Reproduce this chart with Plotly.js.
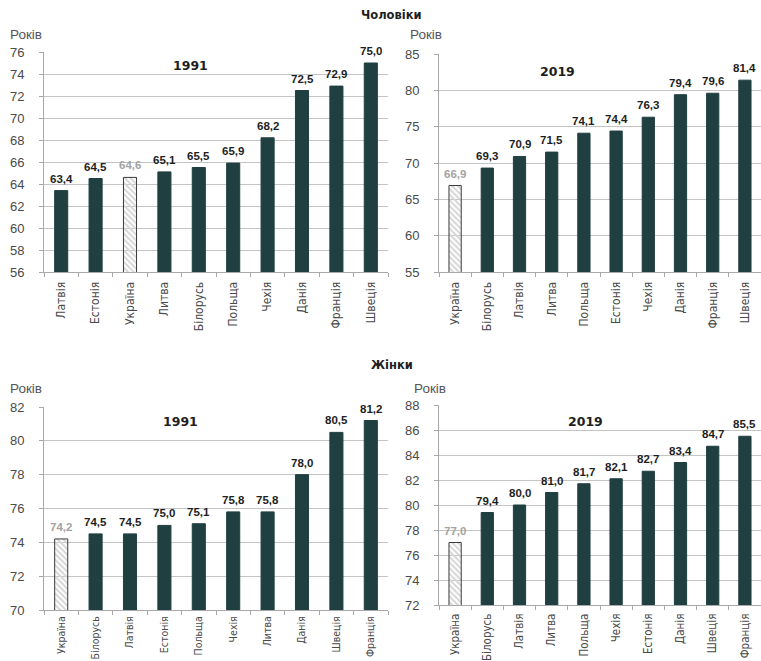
<!DOCTYPE html>
<html>
<head>
<meta charset="utf-8">
<script src="https://cdn.plot.ly/plotly-3.0.1.min.js"></script>
<style>
  html, body { margin: 0; padding: 0; background: #ffffff; }
  #chart { width: 761px; height: 661px; }
</style>
</head>
<body>
<div id="chart"></div>
<script>
// Life expectancy at birth, years
const menCountries1991 = ['Латвія', 'Естонія', 'Україна', 'Литва', 'Білорусь', 'Польща', 'Чехія', 'Данія', 'Франція', 'Швеція'];
const menValues1991 = [63.4, 64.5, 64.6, 65.1, 65.5, 65.9, 68.2, 72.5, 72.9, 75.0];

const menCountries2019 = ['Україна', 'Білорусь', 'Латвія', 'Литва', 'Польща', 'Естонія', 'Чехія', 'Данія', 'Франція', 'Швеція'];
const menValues2019 = [66.9, 69.3, 70.9, 71.5, 74.1, 74.4, 76.3, 79.4, 79.6, 81.4];

const womenCountries1991 = ['Україна', 'Білорусь', 'Латвія', 'Естонія', 'Польща', 'Чехія', 'Литва', 'Данія', 'Швеція', 'Франція'];
const womenValues1991 = [74.2, 74.5, 74.5, 75.0, 75.1, 75.8, 75.8, 78.0, 80.5, 81.2];

const womenCountries2019 = ['Україна', 'Білорусь', 'Латвія', 'Литва', 'Польща', 'Чехія', 'Естонія', 'Данія', 'Швеція', 'Франція'];
const womenValues2019 = [77.0, 79.4, 80.0, 81.0, 81.7, 82.1, 82.7, 83.4, 84.7, 85.5];

const menTicks1991 = [56, 58, 60, 62, 64, 66, 68, 70, 72, 74, 76];
const menTicks2019 = [55, 60, 65, 70, 75, 80, 85];
const womenTicks1991 = [70, 72, 74, 76, 78, 80, 82];
const womenTicks2019 = [72, 74, 76, 78, 80, 82, 84, 86, 88];

const highlight = 'Україна';
const barColor = '#1f3f40';
const hatchFg = '#555555';
const hatchBg = '#d6d6d6';
const labelColor = '#1e1e1e';
const labelMuted = '#a3a3a3';

function barTrace(cats, vals, xa, ya) {
  const isHi = cats.map(c => c === highlight);
  return {
    type: 'bar',
    x: cats,
    y: vals,
    xaxis: xa,
    yaxis: ya,
    marker: {
      color: isHi.map(h => h ? hatchBg : barColor),
      line: { color: isHi.map(h => h ? '#3a3a3a' : barColor), width: 1 },
      pattern: {
        shape: isHi.map(h => h ? '\\' : ''),
        fgcolor: hatchFg,
        bgcolor: hatchBg,
        size: 4,
        solidity: 0.5
      }
    },
    hoverinfo: 'x+y',
    showlegend: false
  };
}

// value labels above each bar, placed in data coordinates
const valueFont = { family: 'Liberation Sans, Arial, sans-serif', size: 11.5, weight: 'bold' };
function valueLabels(cats, vals, xa, ya) {
  return cats.map((c, i) => ({
    xref: xa, yref: ya, x: c, y: vals[i],
    text: vals[i].toFixed(1).replace('.', ','),
    xanchor: 'center', yanchor: 'bottom', yshift: 4,
    showarrow: false,
    font: Object.assign({}, valueFont, { color: c === highlight ? labelMuted : labelColor })
  }));
}

const data = [
  barTrace(menCountries1991, menValues1991, 'x', 'y'),
  barTrace(menCountries2019, menValues2019, 'x2', 'y2'),
  barTrace(womenCountries1991, womenValues1991, 'x3', 'y3'),
  barTrace(womenCountries2019, womenValues2019, 'x4', 'y4')
];

function xAxis(domain, anchor, fontSize, standoff) {
  return {
    domain: domain,
    anchor: anchor,
    type: 'category',
    showline: true,
    linecolor: '#a8a8a8',
    linewidth: 1,
    ticks: 'outside',
    tickson: 'boundaries',
    ticklen: 4,
    tickcolor: '#a8a8a8',
    tickangle: -90,
    ticklabelstandoff: standoff,
    tickfont: { family: 'Liberation Sans Narrow, Arial Narrow, DejaVu Sans Condensed, sans-serif', size: fontSize, color: '#4a4a4a' },
    showgrid: false,
    fixedrange: true
  };
}

function yAxis(domain, anchor, ticks) {
  return {
    domain: domain,
    anchor: anchor,
    range: [ticks[0], ticks[ticks.length - 1]],
    tickvals: ticks,
    ticktext: ticks.map(String),
    showline: true,
    linecolor: '#a8a8a8',
    linewidth: 1,
    ticks: 'outside',
    ticklen: 4,
    tickcolor: '#a8a8a8',
    ticklabelstandoff: 12,
    tickfont: { family: 'Liberation Sans, Arial, sans-serif', size: 13, color: '#4a4a4a' },
    showgrid: true,
    gridcolor: '#c4c4c4',
    gridwidth: 1,
    zeroline: false,
    fixedrange: true
  };
}

const yearFont = { family: 'DejaVu Sans, sans-serif', size: 12.5, weight: 'bold', color: '#1e1e1e' };
const titleFont = { family: 'DejaVu Sans, sans-serif', size: 11.5, weight: 'bold', color: '#1e1e1e' };
const unitFont = { family: 'Liberation Sans, Arial, sans-serif', size: 13.5, color: '#555555' };

function note(text, x, y, font, xanchor) {
  return {
    text: text, xref: 'paper', yref: 'paper', x: x, y: y,
    xanchor: xanchor || 'center', yanchor: 'middle',
    showarrow: false, font: font
  };
}

const W = 761, H = 661;
const px = v => v / W;
const py = v => 1 - v / H;

const layout = {
  width: W,
  height: H,
  margin: { l: 0, r: 0, t: 0, b: 0 },
  paper_bgcolor: '#ffffff',
  plot_bgcolor: '#ffffff',
  bargap: 0.62,
  xaxis: xAxis([px(44), px(388)], 'y', 12, 4),
  yaxis: yAxis([py(272), py(52)], 'x', menTicks1991),
  xaxis2: xAxis([px(439), px(761)], 'y2', 12, 4),
  yaxis2: yAxis([py(272), py(54)], 'x2', menTicks2019),
  xaxis3: xAxis([px(44), px(388)], 'y3', 10.5, 1),
  yaxis3: yAxis([py(610), py(407)], 'x3', womenTicks1991),
  xaxis4: xAxis([px(439), px(761)], 'y4', 11.5, 3),
  yaxis4: yAxis([py(605), py(405)], 'x4', womenTicks2019),
  annotations: [
    note('Чоловіки', px(391), py(15), titleFont),
    note('Жінки', px(392), py(365), titleFont),
    note('Років', px(8), py(34), unitFont, 'left'),
    note('Років', px(408), py(34), unitFont, 'left'),
    note('Років', px(8), py(388), unitFont, 'left'),
    note('Років', px(412), py(388), unitFont, 'left'),
    note('1991', px(190), py(66), yearFont),
    note('2019', px(557), py(72), yearFont),
    note('1991', px(180), py(421), yearFont),
    note('2019', px(585), py(421), yearFont)
  ].concat(
    valueLabels(menCountries1991, menValues1991, 'x', 'y'),
    valueLabels(menCountries2019, menValues2019, 'x2', 'y2'),
    valueLabels(womenCountries1991, womenValues1991, 'x3', 'y3'),
    valueLabels(womenCountries2019, womenValues2019, 'x4', 'y4')
  )
};

Plotly.newPlot('chart', data, layout, { staticPlot: true, displayModeBar: false });
</script>
</body>
</html>
